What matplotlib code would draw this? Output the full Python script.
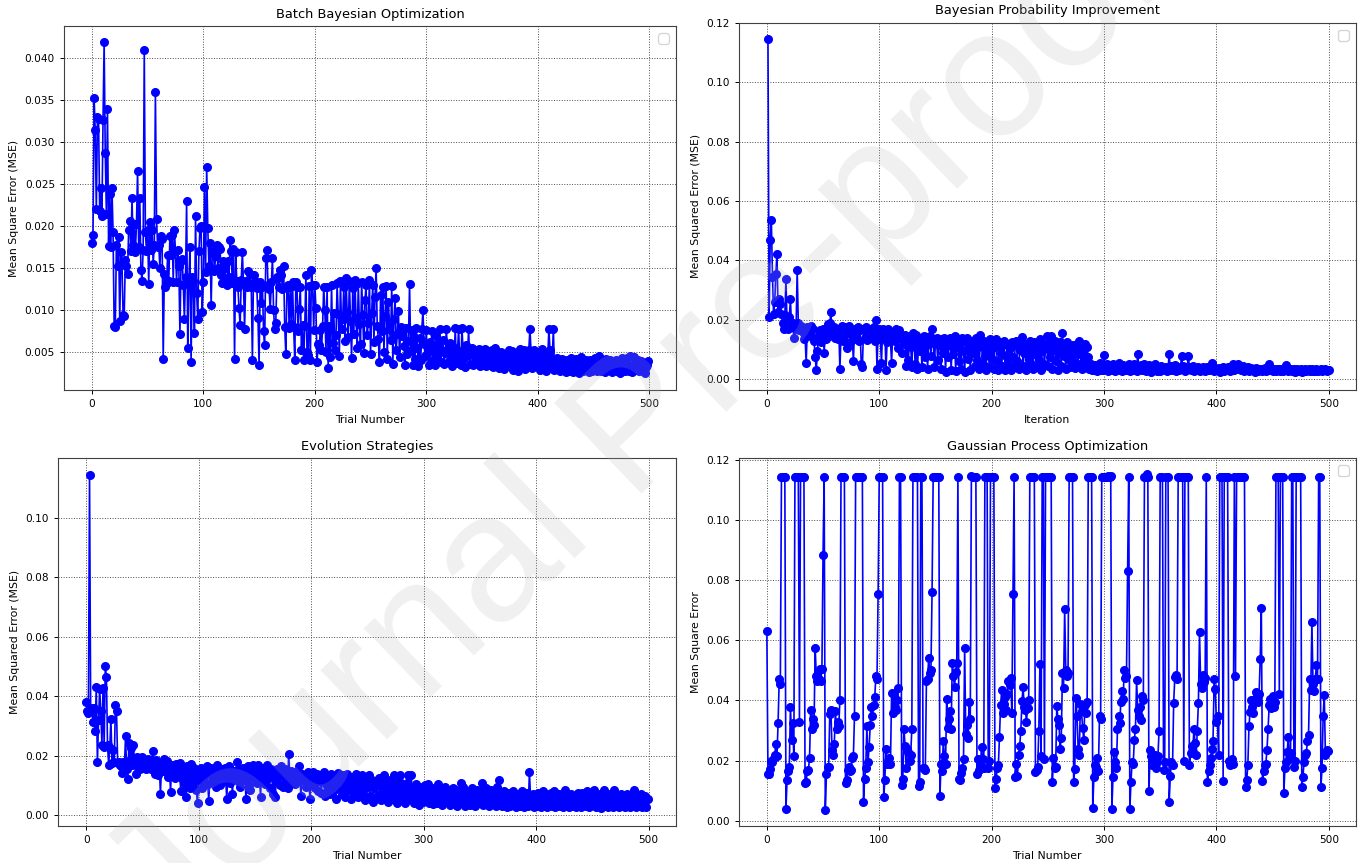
import numpy as np
import matplotlib
matplotlib.use('Agg')
import matplotlib.pyplot as plt

# All MSE values below are in units of 1e-3 (milli-MSE)
bbo_mse_milli = [
    18.0, 18.9, 35.3, 31.4, 22.0, 33.0, 32.8, 21.8, 24.5, 21.2,
    32.6, 41.9, 28.7, 21.5, 33.9, 17.6, 23.8, 17.5, 24.6, 19.3,
    8.1, 8.0, 17.8, 15.2, 18.7, 8.7, 16.9, 15.5, 9.4, 9.3,
    16.0, 15.2, 14.3, 19.6, 20.6, 17.0, 23.3, 17.8, 20.2, 16.9,
    20.2, 26.6, 17.5, 23.3, 14.8, 13.5, 17.2, 41.0, 19.3, 17.0,
    19.5, 13.1, 20.5, 17.2, 19.6, 15.5, 17.8, 36.0, 20.8, 17.5,
    17.8, 15.0, 18.8, 18.5, 4.2, 14.3, 12.7, 13.2, 16.6, 13.5,
    18.8, 16.6, 19.0, 13.4, 19.6, 17.0, 13.3, 17.2, 15.3, 7.2,
    15.8, 16.1, 13.0, 8.9, 14.0, 23.0, 5.5, 13.3, 17.5, 3.8,
    14.0, 13.5, 7.3, 21.2, 12.0, 8.9, 17.0, 19.8, 20.0, 9.8,
    13.3, 24.7, 14.5, 27.0, 19.8, 15.2, 18.0, 10.6, 16.8, 17.0,
    14.6, 16.5, 17.8, 15.0, 17.5, 17.3, 14.2, 13.2, 15.8, 15.0,
    13.5, 13.0, 15.8, 14.0, 18.3, 17.0, 13.2, 17.3, 4.2, 16.9,
    13.5, 12.8, 10.2, 8.2, 13.6, 16.9, 13.2, 7.7, 13.5, 12.8,
    14.6, 13.0, 14.3, 12.8, 4.0, 14.2, 13.5, 13.0, 12.6, 9.0,
    3.5, 13.3, 10.9, 12.8, 7.5, 5.8, 16.2, 17.2, 13.0, 12.5,
    10.1, 13.3, 16.2, 10.0, 7.7, 8.5, 14.0, 13.8, 12.7, 14.8,
    14.2, 12.5, 15.3, 8.0, 4.8, 12.8, 13.0, 7.9, 12.7, 8.3,
    13.3, 8.0, 4.1, 13.4, 12.7, 7.5, 10.1, 12.8, 5.2, 8.2,
    4.0, 8.1, 14.2, 5.0, 4.6, 12.9, 4.0, 14.8, 13.0, 7.6,
    13.0, 10.3, 3.8, 6.0, 5.8, 7.6, 5.2, 8.1, 12.8, 10.0,
    5.0, 12.8, 3.1, 8.1, 4.4, 13.0, 6.1, 9.7, 5.3, 7.0,
    13.2, 9.5, 4.5, 13.5, 7.8, 8.9, 12.8, 6.3, 13.8, 9.8,
    6.8, 13.5, 8.7, 4.3, 12.6, 7.1, 13.6, 9.0, 5.5, 13.2,
    8.3, 6.0, 13.4, 9.4, 4.9, 11.2, 13.0, 7.0, 8.5, 13.6,
    4.8, 9.6, 13.0, 6.2, 11.5, 15.0, 8.1, 6.5, 3.8, 11.8,
    7.5, 12.7, 5.0, 9.3, 12.9, 4.2, 11.0, 7.8, 6.4, 12.9,
    3.6, 8.9, 11.4, 5.3, 7.2, 9.9, 4.4, 8.0, 6.9, 7.8,
    5.7, 3.5, 7.9, 4.8, 6.3, 13.1, 5.2, 7.6, 3.4, 6.8,
    4.2, 7.9, 5.5, 3.3, 6.7, 4.1, 7.7, 10.0, 5.9, 4.5,
    7.6, 4.8, 3.4, 6.2, 5.4, 7.5, 4.0, 5.8, 3.5, 6.9,
    4.4, 5.9, 7.8, 3.8, 5.1, 6.4, 3.6, 4.9, 7.7, 5.3,
    3.9, 6.1, 4.6, 3.3, 5.6, 4.2, 7.9, 3.7, 5.0, 7.8,
    4.1, 3.5, 7.9, 5.2, 4.3, 3.2, 5.8, 4.7, 7.8, 3.6,
    4.9, 5.5, 3.4, 4.5, 5.3, 3.8, 4.8, 5.4, 3.3, 4.4,
    5.2, 3.6, 4.1, 5.4, 3.3, 4.7, 5.1, 3.5, 4.6, 5.3,
    3.2, 4.3, 5.5, 3.8, 4.9, 3.1, 4.5, 5.0, 3.6, 4.2,
    3.0, 4.8, 3.5, 4.4, 5.2, 3.3, 4.0, 5.1, 2.9, 4.3,
    3.7, 4.9, 2.8, 4.5, 5.4, 3.4, 4.1, 3.2, 5.2, 3.0,
    4.4, 3.6, 5.3, 7.8, 5.0, 3.1, 4.2, 5.3, 3.3, 4.0,
    3.2, 4.5, 2.9, 3.8, 5.4, 3.3, 4.4, 2.8, 3.9, 4.6,
    7.7, 5.3, 3.4, 4.1, 7.8, 2.9, 3.6, 4.3, 3.1, 3.8,
    2.7, 3.5, 4.2, 3.0, 3.9, 2.6, 4.1, 3.3, 2.8, 3.7,
    4.3, 3.1, 2.6, 3.6, 4.2, 3.0, 3.4, 2.5, 3.9, 4.4,
    3.2, 2.7, 3.7, 4.1, 3.0, 3.5, 2.6, 4.0, 3.3, 2.8,
    3.8, 4.3, 3.1, 2.7, 3.6, 4.5, 3.2, 2.8, 3.9, 3.4,
    2.6, 4.2, 3.3, 2.9, 3.7, 4.1, 3.0, 2.6, 3.8, 3.2,
    4.0, 2.8, 3.5, 3.9, 2.5, 3.4, 4.3, 3.0, 2.7, 3.6,
    4.3, 3.1, 2.8, 4.5, 3.3, 2.6, 4.4, 3.7, 2.9, 3.5,
    4.1, 2.7, 3.4, 3.9, 2.8, 3.6, 2.5, 3.2, 3.5, 3.9,
]

bpi_mse_milli = [
    114.5, 21.1, 47.0, 53.6, 34.5, 22.0, 26.0, 35.5, 42.2, 22.5,
    27.0, 25.5, 22.0, 18.8, 17.0, 21.5, 33.7, 18.0, 16.8, 21.0,
    26.9, 17.5, 19.0, 14.0, 18.3, 17.0, 36.8, 19.0, 16.5, 17.8,
    17.2, 15.8, 13.5, 14.5, 5.5, 17.5, 16.0, 15.0, 17.8, 14.2,
    16.8, 13.0, 7.5, 3.0, 9.5, 14.8, 16.5, 12.5, 15.5, 17.0,
    9.0, 16.0, 13.5, 18.5, 14.5, 19.0, 22.5, 16.0, 15.0, 17.5,
    14.0, 16.5, 13.5, 17.0, 3.5, 15.0, 17.8, 13.0, 16.2, 17.5,
    10.5, 15.5, 17.8, 12.5, 16.0, 14.8, 6.0, 17.0, 13.5, 15.8,
    17.5, 12.8, 16.5, 5.0, 4.0, 16.8, 14.0, 17.5, 13.2, 15.0,
    17.0, 13.8, 16.2, 14.5, 17.5, 13.0, 20.0, 3.5, 15.5, 16.8,
    13.5, 5.5, 17.0, 14.0, 16.5, 3.0, 12.5, 17.0, 15.0, 13.0,
    5.5, 16.0, 14.5, 13.0, 17.0, 14.0, 10.5, 16.5, 13.5, 9.0,
    14.5, 12.0, 14.8, 4.5, 13.0, 6.5, 14.5, 11.0, 4.0, 15.5,
    13.0, 5.0, 14.8, 3.5, 12.5, 9.5, 13.8, 4.0, 11.0, 14.5,
    7.5, 13.0, 3.5, 12.0, 14.5, 8.0, 17.0, 13.5, 4.0, 12.5,
    14.0, 6.5, 11.5, 13.5, 3.5, 12.0, 9.0, 14.0, 2.5, 13.0,
    7.5, 11.5, 14.0, 3.0, 12.5, 8.5, 14.5, 2.8, 11.0, 13.5,
    6.0, 12.0, 3.5, 13.8, 9.5, 2.5, 12.5, 14.0, 7.0, 11.5,
    3.0, 13.0, 9.0, 12.5, 4.5, 14.0, 6.5, 11.0, 3.5, 15.0,
    12.0, 5.0, 13.0, 8.0, 3.2, 12.5, 10.0, 4.0, 13.5, 7.0,
    12.0, 3.5, 11.0, 13.5, 6.0, 3.0, 12.5, 9.0, 4.5, 11.5,
    13.0, 3.2, 8.0, 12.0, 5.5, 10.5, 3.0, 12.5, 7.5, 4.0,
    11.5, 13.0, 6.0, 3.5, 10.0, 12.5, 14.3, 4.5, 9.0, 12.0,
    3.0, 11.5, 7.0, 13.0, 5.0, 10.5, 3.5, 12.5, 8.5, 4.0,
    11.0, 6.5, 13.5, 3.2, 9.5, 12.0, 5.0, 10.5, 14.5, 4.5,
    12.0, 7.5, 14.5, 3.5, 10.0, 13.0, 6.0, 11.5, 3.0, 9.0,
    12.5, 4.5, 15.5, 8.0, 11.0, 3.5, 12.5, 7.0, 10.0, 4.0,
    11.5, 6.0, 11.5, 3.8, 9.0, 12.0, 5.0, 13.0, 8.5, 3.5,
    10.5, 6.5, 12.0, 4.5, 11.0, 7.5, 3.5, 5.0, 3.2, 4.5,
    3.0, 4.8, 3.5, 2.8, 4.0, 5.5, 3.2, 4.2, 3.0, 8.2,
    4.5, 3.3, 5.0, 2.9, 3.8, 4.6, 3.1, 5.2, 3.6, 2.8,
    4.3, 3.4, 5.5, 3.0, 4.1, 2.7, 4.8, 3.5, 3.0, 4.4,
    3.2, 5.0, 2.8, 3.9, 4.5, 3.0, 5.2, 3.4, 2.7, 8.5,
    4.2, 3.3, 4.9, 3.0, 3.7, 5.3, 2.9, 4.0, 3.5, 4.7,
    3.1, 2.6, 4.4, 3.6, 5.0, 3.2, 2.8, 4.2, 3.5, 2.7,
    4.6, 3.3, 3.9, 3.0, 4.3, 2.9, 3.6, 8.5, 3.2, 4.4,
    3.0, 3.7, 4.8, 2.9, 3.5, 4.1, 3.1, 3.8, 7.7, 4.5,
    3.3, 2.9, 4.0, 3.5, 8.0, 4.2, 3.0, 3.6, 4.4, 2.8,
    3.4, 3.9, 3.1, 4.3, 2.7, 3.6, 3.2, 4.0, 3.4, 2.8,
    3.7, 4.2, 3.0, 3.5, 4.1, 5.5, 3.2, 2.7, 3.8, 3.4,
    3.0, 3.9, 2.6, 3.5, 3.1, 4.0, 2.8, 3.6, 3.3, 4.2,
    3.0, 2.7, 3.5, 4.3, 5.0, 3.2, 3.8, 4.6, 5.0, 3.4,
    4.2, 3.0, 3.7, 4.5, 2.9, 3.5, 3.2, 4.0, 2.7, 3.3,
    3.8, 3.0, 3.4, 2.6, 3.9, 3.2, 2.8, 3.6, 3.1, 3.5,
    2.9, 3.3, 3.7, 2.7, 3.4, 3.0, 5.0, 3.6, 3.2, 2.8,
    3.5, 3.1, 2.7, 3.4, 3.0, 3.6, 2.8, 3.3, 2.9, 3.5,
    3.1, 4.9, 3.4, 2.7, 3.2, 3.6, 2.8, 3.0, 3.4, 2.6,
    3.1, 3.5, 2.7, 3.0, 3.3, 2.6, 3.2, 2.9, 3.4, 2.7,
    3.0, 3.3, 2.8, 3.1, 3.5, 2.7, 3.2, 2.9, 3.4, 2.8,
    3.1, 3.0, 3.3, 2.8, 3.2, 3.0, 3.4, 2.9, 3.1, 3.1,
]

es_mse_milli = [
    38.2, 35.0, 34.5, 114.3, 36.0, 35.5, 31.5, 36.0, 28.4, 43.2,
    17.8, 32.0, 42.5, 35.0, 23.6, 42.8, 23.0, 50.2, 46.5, 23.5,
    17.0, 22.5, 32.4, 17.5, 22.0, 18.0, 37.1, 35.0, 17.5, 18.0,
    17.0, 16.5, 14.2, 17.8, 16.0, 26.6, 15.5, 12.2, 24.3, 18.5,
    22.5, 17.0, 23.5, 18.0, 14.0, 19.5, 16.5, 18.5, 15.5, 17.8,
    19.5, 16.0, 18.5, 15.5, 17.2, 19.0, 16.8, 18.0, 15.5, 21.6,
    17.5, 14.0, 18.5, 15.0, 13.5, 17.0, 7.2, 16.5, 14.8, 19.0,
    17.5, 15.5, 18.2, 13.0, 16.5, 7.9, 17.0, 14.5, 16.0, 12.5,
    17.2, 14.0, 15.5, 17.5, 8.0, 16.5, 12.0, 15.0, 10.5, 6.0,
    16.5, 13.0, 9.0, 17.2, 14.5, 11.0, 16.0, 13.5, 8.5, 4.1,
    14.5, 12.0, 16.0, 9.0, 15.5, 11.5, 13.5, 16.5, 10.5, 4.8,
    14.0, 16.0, 11.5, 13.0, 15.5, 9.5, 16.8, 12.5, 14.0, 10.0,
    15.5, 13.0, 11.5, 16.0, 12.0, 5.5, 14.5, 16.5, 11.0, 13.5,
    7.0, 15.0, 12.5, 14.0, 18.0, 11.5, 15.5, 9.5, 13.0, 16.0,
    12.0, 14.5, 5.5, 13.0, 16.5, 10.0, 8.5, 15.0, 17.0, 12.5,
    14.5, 16.5, 11.0, 17.0, 13.5, 6.0, 15.5, 12.0, 16.0, 10.5,
    14.0, 17.0, 12.5, 9.0, 15.5, 13.0, 7.0, 14.5, 6.0, 12.0,
    15.5, 13.5, 10.0, 16.5, 14.0, 9.5, 13.0, 15.5, 11.5, 9.0,
    20.6, 13.5, 15.0, 11.0, 14.5, 12.5, 10.5, 15.0, 13.0, 16.5,
    11.5, 6.5, 14.0, 12.0, 13.5, 9.5, 12.5, 14.5, 10.5, 5.5,
    13.0, 11.0, 14.5, 9.0, 12.5, 14.0, 8.0, 11.5, 13.5, 7.5,
    12.0, 14.5, 6.5, 10.5, 13.0, 9.0, 12.5, 7.0, 14.0, 11.0,
    8.5, 13.0, 5.5, 10.5, 14.3, 9.0, 12.0, 7.0, 13.5, 10.0,
    6.0, 11.5, 14.0, 8.5, 12.0, 5.5, 10.0, 13.0, 7.5, 11.0,
    14.0, 9.0, 6.0, 12.5, 10.0, 13.5, 7.5, 11.0, 5.0, 12.0,
    9.5, 13.5, 6.5, 10.5, 12.0, 4.5, 9.0, 11.5, 6.0, 10.0,
    12.5, 7.0, 5.0, 10.5, 8.5, 13.5, 6.0, 11.0, 4.5, 9.5,
    12.0, 7.5, 5.5, 10.0, 13.5, 6.5, 4.0, 9.0, 11.5, 13.5,
    5.0, 8.0, 10.5, 4.0, 7.0, 11.0, 13.5, 5.5, 9.0, 13.5,
    6.5, 4.0, 8.5, 10.5, 5.0, 7.5, 3.5, 9.5, 6.0, 4.5,
    8.0, 10.0, 5.0, 7.0, 10.5, 4.0, 8.5, 6.0, 3.8, 9.0,
    5.5, 7.5, 4.0, 10.5, 6.5, 8.5, 3.5, 7.0, 5.0, 9.5,
    4.5, 6.5, 8.0, 3.5, 7.5, 5.5, 9.0, 4.0, 6.0, 8.5,
    3.2, 7.0, 5.0, 11.0, 4.0, 9.5, 6.0, 3.0, 8.0, 5.5,
    7.5, 3.5, 6.5, 9.0, 4.5, 7.0, 3.2, 8.5, 5.0, 6.5,
    4.0, 8.0, 11.0, 3.5, 6.0, 9.0, 4.5, 7.5, 3.0, 6.5,
    8.5, 4.0, 5.5, 7.0, 3.2, 9.5, 5.0, 12.0, 4.0, 6.5,
    3.0, 8.0, 5.0, 6.5, 2.8, 7.5, 4.5, 3.0, 6.0, 8.0,
    3.5, 5.5, 2.8, 7.0, 4.0, 6.0, 3.0, 8.0, 5.0, 2.7,
    6.5, 4.0, 7.5, 3.0, 14.7, 5.5, 3.5, 7.0, 2.8, 5.0,
    6.5, 3.0, 7.5, 4.5, 2.8, 6.0, 8.0, 3.5, 5.0, 7.0,
    2.8, 6.5, 4.0, 7.5, 3.0, 5.5, 8.0, 2.8, 6.0, 4.5,
    7.0, 3.0, 5.0, 6.5, 2.7, 4.5, 8.5, 3.5, 6.0, 2.8,
    5.5, 7.0, 3.0, 4.5, 6.5, 2.8, 5.0, 7.5, 3.5, 6.0,
    2.8, 7.5, 4.0, 5.5, 3.0, 8.0, 6.5, 2.7, 5.0, 7.0,
    3.5, 8.5, 4.5, 2.8, 6.0, 3.5, 5.5, 7.0, 2.6, 4.5,
    8.5, 3.0, 5.5, 6.5, 2.7, 4.5, 7.0, 3.5, 2.8, 8.5,
    4.0, 6.0, 3.0, 5.0, 2.7, 7.0, 4.0, 3.0, 6.5, 2.8,
    5.0, 7.0, 3.5, 2.7, 6.0, 4.5, 3.0, 8.5, 5.5, 2.8,
    6.0, 3.5, 4.5, 7.0, 2.8, 5.0, 3.2, 6.5, 2.9, 5.5,
]

gpo_mse_milli = [
    63.0, 15.5, 15.5, 17.2, 20.0, 19.5, 21.0, 22.0, 25.5, 21.5,
    32.5, 47.0, 45.5, 114.2, 114.2, 114.2, 114.2, 4.0, 13.5, 16.5,
    18.0, 38.0, 27.0, 32.5, 21.5, 114.2, 114.2, 114.2, 114.2, 33.0,
    114.2, 114.2, 114.2, 114.2, 12.5, 13.0, 16.5, 17.0, 21.0, 37.0,
    30.5, 34.0, 32.0, 57.5, 48.0, 46.5, 47.0, 50.5, 46.5, 50.5,
    88.5, 114.2, 3.5, 15.5, 18.0, 18.0, 35.5, 37.0, 23.5, 22.0,
    25.5, 36.5, 30.5, 33.0, 31.5, 40.0, 114.2, 114.2, 114.2, 114.2,
    12.5, 13.5, 17.0, 18.0, 16.5, 17.0, 21.0, 21.5, 35.0, 114.2,
    114.2, 114.2, 114.2, 114.2, 114.2, 114.2, 6.3, 14.0, 17.5, 31.5,
    19.5, 24.5, 32.0, 38.0, 35.0, 38.5, 41.0, 48.0, 47.0, 75.5,
    114.2, 114.2, 114.2, 114.2, 7.8, 13.5, 24.0, 19.0, 20.0, 21.0,
    19.0, 42.5, 36.0, 42.0, 38.0, 37.0, 40.0, 44.0, 114.2, 114.2,
    12.0, 14.0, 30.5, 25.0, 17.5, 24.0, 23.0, 20.0, 22.0, 30.5,
    114.2, 114.2, 114.2, 114.2, 114.2, 11.5, 13.0, 114.2, 114.2, 17.5,
    17.5, 17.0, 46.5, 47.0, 54.0, 49.0, 50.0, 76.0, 114.2, 114.2,
    114.2, 114.2, 114.2, 114.2, 8.3, 19.0, 16.5, 26.5, 21.5, 19.0,
    40.5, 31.0, 34.0, 36.5, 30.5, 52.5, 48.0, 44.5, 49.5, 52.5,
    114.2, 14.0, 13.5, 16.0, 17.5, 20.5, 57.5, 29.0, 32.0, 27.5,
    39.5, 34.0, 114.6, 114.2, 114.2, 114.2, 114.2, 15.5, 20.5, 17.0,
    18.0, 24.5, 20.5, 17.5, 114.2, 114.2, 114.2, 17.5, 20.0, 114.2,
    114.2, 114.2, 114.2, 11.0, 14.0, 17.5, 18.5, 28.0, 38.5, 43.5,
    36.0, 39.0, 41.0, 37.0, 42.0, 46.5, 45.0, 47.5, 36.0, 75.5,
    114.2, 14.5, 19.0, 15.0, 22.0, 25.0, 30.0, 39.8, 44.4, 38.0,
    37.0, 33.0, 37.5, 40.0, 114.2, 114.2, 114.2, 114.2, 114.2, 16.4,
    17.0, 18.0, 30.0, 52.2, 21.5, 114.2, 114.2, 20.5, 114.2, 114.2,
    114.2, 114.2, 114.2, 114.2, 13.0, 21.0, 17.5, 18.0, 38.3, 34.0,
    32.0, 24.0, 27.5, 49.0, 44.0, 70.3, 50.0, 48.0, 49.0, 114.2,
    114.2, 114.2, 114.2, 13.0, 17.2, 40.9, 35.0, 24.0, 22.0, 39.0,
    36.5, 30.7, 27.0, 38.5, 36.0, 39.5, 114.2, 114.2, 114.2, 114.2,
    4.4, 14.5, 18.5, 18.0, 21.0, 16.5, 35.0, 34.0, 114.2, 114.2,
    114.2, 114.2, 114.2, 114.2, 114.5, 114.2, 114.7, 4.1, 14.5, 23.0,
    19.5, 17.5, 30.5, 35.0, 32.5, 39.5, 43.0, 40.5, 50.0, 47.5,
    48.0, 83.0, 114.2, 3.8, 13.0, 19.5, 19.0, 27.0, 30.5, 46.7,
    37.0, 35.0, 38.0, 33.5, 41.5, 40.0, 114.2, 114.2, 115.3, 114.2,
    9.8, 23.5, 21.5, 18.5, 20.0, 22.0, 17.5, 19.5, 21.5, 30.0,
    114.2, 114.2, 114.2, 17.0, 19.5, 114.2, 114.2, 114.2, 6.3, 15.0,
    19.5, 18.5, 39.2, 47.7, 48.5, 47.0, 114.2, 114.2, 114.2, 114.2,
    114.2, 20.0, 114.2, 114.2, 114.2, 114.2, 18.5, 22.5, 25.0, 23.0,
    30.5, 26.0, 22.0, 30.0, 39.1, 62.8, 45.5, 44.0, 48.5, 46.0,
    47.5, 114.2, 12.8, 16.5, 18.5, 21.0, 24.0, 26.5, 47.2, 43.9,
    33.0, 35.0, 22.0, 114.2, 114.2, 114.2, 13.1, 114.2, 114.2, 114.2,
    114.2, 20.0, 18.5, 19.5, 20.5, 19.0, 114.2, 48.3, 114.2, 114.2,
    114.2, 114.2, 114.2, 114.2, 114.2, 114.2, 11.1, 13.5, 18.5, 31.4,
    36.3, 40.2, 38.0, 36.0, 40.5, 42.8, 41.0, 39.5, 42.0, 53.9,
    70.6, 13.1, 16.5, 18.5, 19.0, 23.5, 30.6, 38.5, 40.5, 37.5,
    41.5, 38.0, 39.5, 114.2, 114.2, 114.2, 42.0, 114.2, 114.2, 114.2,
    9.2, 17.5, 19.5, 23.0, 28.0, 20.5, 22.5, 114.2, 114.2, 18.0,
    20.0, 114.2, 114.2, 114.2, 114.2, 114.2, 11.1, 14.5, 19.5, 22.0,
    22.5, 26.5, 28.5, 47.0, 43.5, 66.1, 45.5, 43.0, 47.0, 51.9,
    47.0, 114.2, 114.2, 11.1, 17.5, 35.0, 41.9, 22.0, 23.5, 23.3,
]

first_trial = [0, 1, 0, 0]
titles = ["Batch Bayesian Optimization", "Bayesian Probability Improvement",
          "Evolution Strategies", "Gaussian Process Optimization"]
xlabels = ["Trial Number", "Iteration", "Trial Number", "Trial Number"]
ylabels = ["Mean Square Error (MSE)", "Mean Squared Error (MSE)",
           "Mean Squared Error (MSE)", "Mean Square Error"]
show_legend = [True, True, False, True]
x_ticks = [0, 100, 200, 300, 400, 500]
y_limits = [(0.00048, 0.04385), (-0.0036, 0.12005), (-0.0036, 0.11995), (-0.0017, 0.1205)]

series = [bbo_mse_milli, bpi_mse_milli, es_mse_milli, gpo_mse_milli]

fig = plt.figure(figsize=(13.59, 8.63), dpi=100)
rects = [
    [0.0471, 0.5481, 0.4503, 0.4218],
    [0.5436, 0.5481, 0.4540, 0.4256],
    [0.0427, 0.0429, 0.4545, 0.4261],
    [0.5436, 0.0429, 0.4540, 0.4261],
]

for i in range(4):
    ax = fig.add_axes(rects[i])
    y = np.array(series[i]) / 1000.0
    x = np.arange(first_trial[i], first_trial[i] + len(y))
    ax.plot(x, y, color='blue', marker='o', markersize=5.5, linewidth=1.2)
    ax.set_title(titles[i], fontsize=9.4)
    ax.set_xlabel(xlabels[i], fontsize=7.8)
    ax.set_ylabel(ylabels[i], fontsize=7.8)
    ax.tick_params(labelsize=7.6, width=0.7, length=3)
    ax.set_xticks(x_ticks)
    ax.set_xlim(-25, 524)
    ax.set_ylim(*y_limits[i])
    ax.grid(True, linestyle=':', color='0.3', linewidth=0.7)
    for s in ax.spines.values():
        s.set_linewidth(0.8)
        s.set_color('0.25')
    if show_legend[i]:
        ax.legend(loc='upper right')

fig.text(0.47, 0.5, 'Journal Pre-proof', rotation=44, fontsize=130,
         family='Liberation Sans', color='#b4b4b4', alpha=0.2,
         ha='center', va='center', rotation_mode='anchor', zorder=10)

fig.savefig('out.png', dpi=100)
